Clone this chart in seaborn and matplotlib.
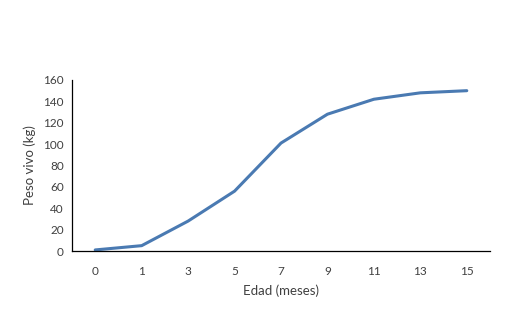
import matplotlib
matplotlib.use("Agg")
import matplotlib.pyplot as plt
import seaborn as sns
import pandas as pd

edad = ["0", "1", "3", "5", "7", "9", "11", "13", "15"]
peso = [1, 5, 28, 56, 101, 128, 142, 148, 150]

sns.set_theme(style="white")
plt.rcParams['font.family'] = ['Lato', 'DejaVu Sans']

df = pd.DataFrame({"edad": edad, "peso": peso})
fig = plt.figure(figsize=(5.11, 3.21), dpi=100)
ax = fig.add_axes([72/511, (321-251)/321, (490-72)/511, (251-80)/321])
sns.lineplot(data=df, x="edad", y="peso", sort=False, color="#4a7ab2", linewidth=2.2, ax=ax)
ax.set_xlim(-0.5, 8.5)
ax.set_ylim(0, 160)
ax.set_yticks(range(0, 161, 20))
for s in ["top", "right"]:
    ax.spines[s].set_visible(False)
ax.spines["left"].set_color("black")
ax.spines["bottom"].set_color("black")
ax.spines["left"].set_linewidth(0.9)
ax.spines["bottom"].set_linewidth(0.9)
ax.tick_params(axis="both", length=0, labelsize=8.5, colors="#404040")
ax.tick_params(axis="x", pad=11)
ax.tick_params(axis="y", pad=6)
ax.set_xlabel("Edad (meses)", fontsize=9.5, color="#404040", labelpad=5)
ax.set_ylabel("Peso vivo (kg)", fontsize=9.5, color="#404040", labelpad=5)
fig.savefig("out.png", dpi=100)
